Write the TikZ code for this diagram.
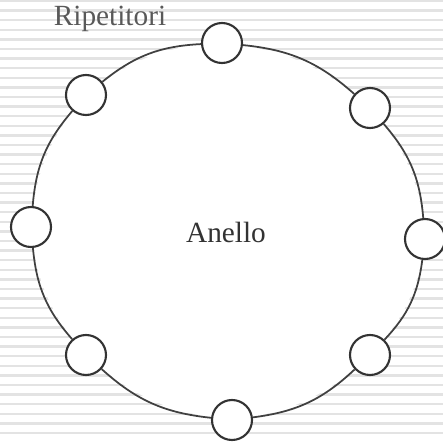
\documentclass[tikz,border=0pt]{standalone}
\usepackage{fontspec}
\setmainfont{Liberation Serif}
\usetikzlibrary{backgrounds}

\tikzset{
  rip/.style={circle,draw=black!80,fill=white,line width=1.8pt,minimum size=1.2cm,inner sep=0pt},
  ring/.style={draw=black!75,line width=1.5pt},
  lbl/.style={font=\fontsize{25}{28}\selectfont,text=black!80}
}

\begin{document}
\begin{tikzpicture}[x=0.03cm,y=-0.03cm]
    \useasboundingbox (0,0) rectangle (443,442);
    \node[rip] (r1) at (222,43) {};
    \node[rip] (r2) at (370,108) {};
    \node[rip] (r3) at (425,239) {};
    \node[rip] (r4) at (370,355) {};
    \node[rip] (r5) at (232,420) {};
    \node[rip] (r6) at (86,355) {};
    \node[rip] (r7) at (31,227) {};
    \node[rip] (r8) at (86,95) {};
    \foreach \a/\b in {1/2,2/3,3/4,4/5,5/6,6/7,7/8,8/1}
      \draw[ring] (r\a) to[bend left=18] (r\b);
    \node[lbl] (anello) at (226,232) {Anello};
    \node[lbl,text=black!65] (ripetitori) at (110,19) {Ripetitori};
    \begin{pgfonlayer}{background}
      \foreach \y in {1,10.6,...,442}
        \draw[gray!22,line width=2pt] (0,\y) -- (443,\y);
      \fill[white] (r1.center) to[bend left=18] (r2.center) to[bend left=18] (r3.center)
        to[bend left=18] (r4.center) to[bend left=18] (r5.center) to[bend left=18] (r6.center)
        to[bend left=18] (r7.center) to[bend left=18] (r8.center) to[bend left=18] (r1.center) -- cycle;
    \end{pgfonlayer}
\end{tikzpicture}
\end{document}
